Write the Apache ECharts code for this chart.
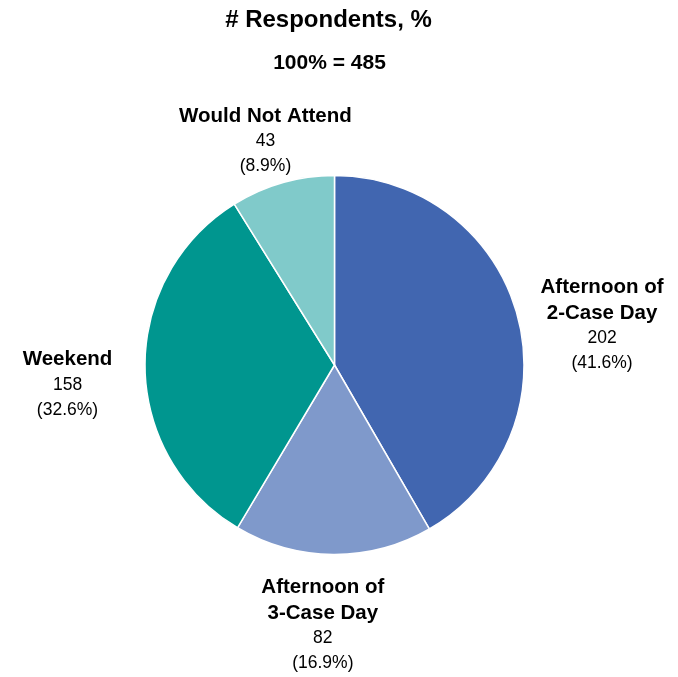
<!DOCTYPE html>
<html>
<head>
<meta charset="utf-8">
<script src="https://cdn.jsdelivr.net/npm/echarts@6/dist/echarts.min.js"></script>
<style>
html,body{margin:0;padding:0;background:#fff;}
#c{width:678px;height:677px;}
</style>
</head>
<body>
<div id="c"></div>
<script>
const titleText = '# Respondents, %';
const subtitleText = '100% = 485';
const categories = ['Afternoon of\n2-Case Day', 'Afternoon of\n3-Case Day', 'Weekend', 'Would Not Attend'];
const values = [202, 82, 158, 43];
const colors = ['#4166B0', '#7F99CB', '#00968F', '#80CACA'];

// label placement (style): radial distance from centre and small nudges
const labelDist = [277, 260, 267, 233];
const labelNudge = [[0, 32], [-10, 0], [0, 17], [-5, 0]];

const CX = 334.5, CY = 365, R = 189.5;
const total = values.reduce((a, b) => a + b, 0);

function midAngle(i) {
  let before = 0;
  for (let k = 0; k < i; k++) before += values[k];
  return (before + values[i] / 2) / total * 2 * Math.PI; // clockwise from top
}

const chart = echarts.init(document.getElementById('c'), null, {renderer: 'canvas'});
const FONT = '"Liberation Sans", Arial, sans-serif';

chart.setOption({
  backgroundColor: '#ffffff',
  animation: false,
  title: [
    {text: titleText, left: 323.5, textAlign: 'center', top: 3,
     textStyle: {fontFamily: FONT, fontWeight: 'bold', fontSize: 24, color: '#000'}},
    {text: subtitleText, left: 324.5, textAlign: 'center', top: 48,
     textStyle: {fontFamily: FONT, fontWeight: 'bold', fontSize: 21, color: '#000'}}
  ],
  series: [{
    type: 'pie',
    center: [CX, CY],
    radius: [0, R],
    startAngle: 90,
    clockwise: true,
    data: categories.map((c, i) => ({name: c, value: values[i], itemStyle: {color: colors[i]}})),
    itemStyle: {borderColor: '#ffffff', borderWidth: 1.5},
    label: {
      show: true,
      position: 'outside',
      overflow: 'none',
      fontFamily: FONT,
      formatter: function (p) {
        const pct = (p.value / total * 100).toFixed(1);
        return p.name.split('\n').map(s => '{b|' + s + '}').join('\n') +
          '\n{n|' + p.value + '}\n{n|(' + pct + '%)}';
      },
      rich: {
        b: {fontFamily: FONT, fontWeight: 'bold', fontSize: 20.5, color: '#000', lineHeight: 26, align: 'center'},
        n: {fontFamily: FONT, fontSize: 17.5, color: '#000', lineHeight: 25, align: 'center'}
      }
    },
    labelLine: {show: false},
    labelLayout: function (params) {
      const i = params.dataIndex;
      const a = midAngle(i);
      const d = labelDist[i];
      return {
        x: CX + Math.sin(a) * d + labelNudge[i][0],
        y: CY - Math.cos(a) * d + labelNudge[i][1],
        align: 'center',
        verticalAlign: 'middle'
      };
    }
  }]
});
</script>
</body>
</html>
